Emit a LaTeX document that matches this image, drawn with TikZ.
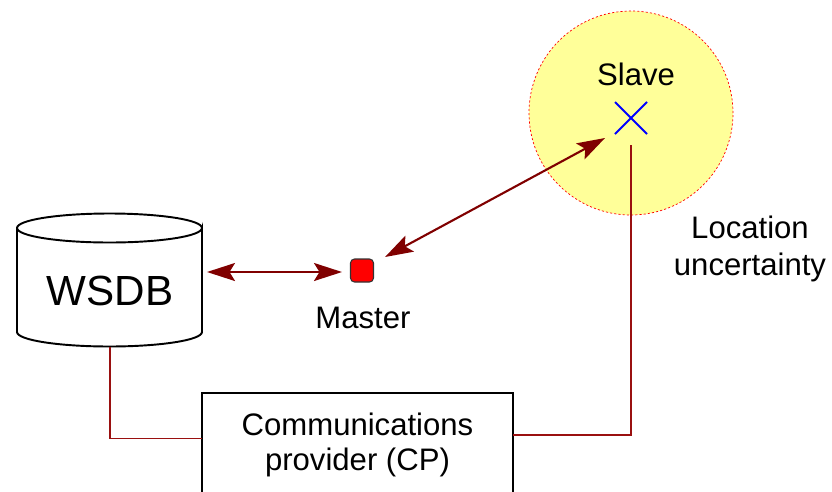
\documentclass[tikz,border=0pt]{standalone}
\usepackage{fontspec}
\setmainfont{Liberation Sans}
\usetikzlibrary{arrows.meta,calc}
\definecolor{linkred}{HTML}{800000}
\definecolor{wirered}{HTML}{9A1010}
\definecolor{zoneyellow}{HTML}{FFFF99}
\begin{document}
\begin{tikzpicture}[x=0.02cm,y=-0.02cm,
  txt/.style={font=\fontsize{17.7}{21}\selectfont, inner sep=0pt},
  link/.style={draw=linkred, line width=1.2pt,
    {Stealth[length=0.56cm, width=0.36cm, inset=0.11cm]}-{Stealth[length=0.56cm, width=0.36cm, inset=0.11cm]}},
  wire/.style={draw=wirered, line width=0.85pt},
  outline/.style={draw=black, line width=1.1pt}]
\useasboundingbox (0,0) rectangle (832,491);
\clip (0,0) rectangle (832,491);

% location uncertainty zone around the slave
\fill[zoneyellow] (631,113) circle[radius=102*0.02cm];
\draw[red, dashed, dash pattern=on 1.2pt off 1.2pt, line width=0.4pt] (631,113) circle[radius=102*0.02cm];
\node[txt] (slavelbl) at (636,74) {Slave};
\coordinate (slave) at (631,118);
\draw[blue, line width=1.1pt] ($(slave)+(-16,-16)$) -- ($(slave)+(16,16)$)
  ($(slave)+(-16,16)$) -- ($(slave)+(16,-16)$);
\node[txt, align=center] (uncert) at (750,249) {Location\\uncertainty};

% database cylinder
\draw[outline, fill=white] (17,228) -- (17,332) arc[start angle=180, end angle=360, x radius=92.5*0.02cm, y radius=14.5*0.02cm]
  -- (202,228) arc[start angle=0, end angle=-180, x radius=92.5*0.02cm, y radius=14.5*0.02cm] -- cycle;
\draw[outline] (17,228) arc[start angle=180, end angle=0, x radius=92.5*0.02cm, y radius=14.5*0.02cm];
\node[font=\fontsize{24}{28}\selectfont, inner sep=0pt] (wsdbtxt) at (110,291) {WSDB};
\coordinate (wsdbright) at (207,272);
\coordinate (wsdbbottom) at (110,347);

% master device
\node[draw=black!80, fill=red, rounded corners=4*0.02cm, minimum size=23*0.02cm, inner sep=0pt, line width=0.6pt] (master) at (362,270.5) {};
\node[txt] (masterlbl) at (363,318) {Master};

% communications provider
\draw[outline, fill=white] (202,520) -- (202,393) -- (513,393) -- (513,520);
\node[txt, align=center] (cp) at (357.5,445) {Communications\\[-1pt]provider (CP)};
\coordinate (cpleft) at (202,438.5);
\coordinate (cpright) at (513,435);

% links
\coordinate (mleft) at (342,272);
\coordinate (mright) at (385,257);
\coordinate (sleft) at (605,138);
\coordinate (sbottom) at (631,145);
\path[link] (wsdbright) -- (mleft);
\path[link] (mright) -- (sleft);
\draw[wire] (wsdbbottom) |- (cpleft);
\draw[wire] (cpright) -| (sbottom);
\end{tikzpicture}
\end{document}
